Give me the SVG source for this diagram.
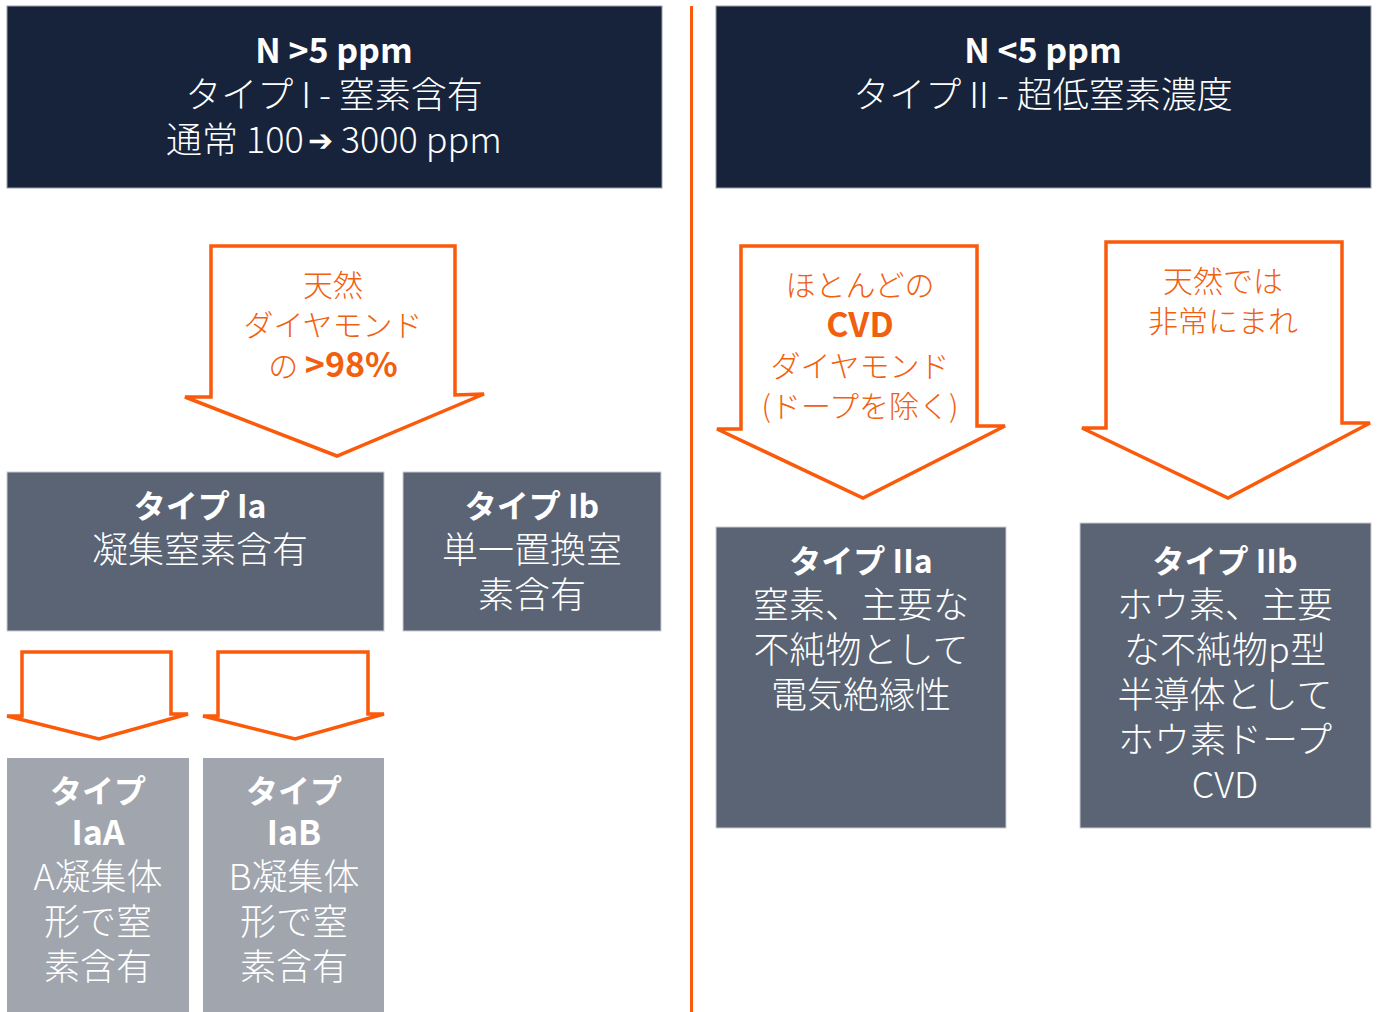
<svg xmlns="http://www.w3.org/2000/svg" width="1383" height="1012" viewBox="0 0 1383 1012">
<style>
.hdr{fill:#16233b;stroke:#9aa0aa;stroke-width:1}
.mid{fill:#5a6474;stroke:#c8ccd2;stroke-width:1}
.lt{fill:#a0a5ae}
.arr{fill:#fff;stroke:#fa5a0a;stroke-width:3.5;stroke-linejoin:miter}
text{font-family:"Noto Sans CJK JP","Noto Sans",sans-serif;text-anchor:middle}
.w{fill:#fff;font-weight:300}
.wb{fill:#fff;font-weight:700}
.o{fill:#f0600f;font-weight:300}
.ob{fill:#f0600f;font-weight:700}
.s36{font-size:36px}
.s34{font-size:34px}
.s32{font-size:32px}
.s30{font-size:30px}
.sym{font-family:"DejaVu Sans",sans-serif;font-size:30px}
</style>
<rect width="1383" height="1012" fill="#fff"/>
<g id="divider"><line x1="691.5" y1="6" x2="691.5" y2="1012" stroke="#fa5a0a" stroke-width="3"/></g>
<g id="typeI">
<rect class="hdr" x="7" y="6" width="655" height="182"/>
<text class="wb s34" x="334" y="63">N &gt;5 ppm</text>
<text class="w s36" x="334" y="108">タイプ I - 窒素含有</text>
<text class="w s36" x="334" y="153">通常 100<tspan class="sym" dx="4" dy="-2">➔</tspan><tspan dy="2"> 3000 ppm</tspan></text>
</g>
<g id="typeII">
<rect class="hdr" x="716" y="6" width="655" height="182"/>
<text class="wb s34" x="1043" y="63">N &lt;5 ppm</text>
<text class="w s36" x="1043" y="108">タイプ II - 超低窒素濃度</text>
</g>
<g id="connectors">
<polygon class="arr" points="211,246 455,246 455,395 484,394 337,456 185,397 211,397"/>
<polygon class="arr" points="741,246 977,246 977,426 1005,426 863,498 717,429 741,429"/>
<polygon class="arr" points="1106,242 1342,242 1342,423 1370,423 1228,498 1082,428 1106,428"/>
<polygon class="arr" points="22,652 171,652 171,714 188,714 99,739 7,716 22,716"/>
<polygon class="arr" points="218,652 368,652 368,714 384,714 295,739 203,716 218,716"/>
</g>
<g id="arrowlabel1">
<text class="o s30" x="333" y="296">天然</text>
<text class="o s30" x="333" y="336">ダイヤモンド</text>
<text class="o s30" x="333" y="377">の <tspan class="ob s34">&gt;98%</tspan></text>
</g>
<g id="arrowlabel2">
<text class="o s30" x="860" y="296">ほとんどの</text>
<text class="ob s34" x="860" y="337">CVD</text>
<text class="o s30" x="860" y="377">ダイヤモンド</text>
<text class="o s30" x="860" y="417">(ドープを除く)</text>
</g>
<g id="arrowlabel3">
<text class="o s30" x="1223" y="292">天然では</text>
<text class="o s30" x="1223" y="332">非常にまれ</text>
</g>
<g id="typeIa">
<rect class="mid" x="7" y="472" width="377" height="159"/>
<text class="wb s32" x="200" y="518">タイプ Ia</text>
<text class="w s36" x="200" y="563">凝集窒素含有</text>
</g>
<g id="typeIb">
<rect class="mid" x="403" y="472" width="258" height="159"/>
<text class="wb s32" x="532" y="518">タイプ Ib</text>
<text class="w s36" x="532" y="563">単一置換室</text>
<text class="w s36" x="532" y="608">素含有</text>
</g>
<g id="typeIaA">
<rect class="lt" x="7" y="758" width="182" height="254"/>
<text class="wb s32" x="98" y="803">タイプ</text>
<text class="wb s34" x="98" y="845">IaA</text>
<text class="w s36" x="98" y="890">A凝集体</text>
<text class="w s36" x="98" y="935">形で窒</text>
<text class="w s36" x="98" y="980">素含有</text>
</g>
<g id="typeIaB">
<rect class="lt" x="203" y="758" width="181" height="254"/>
<text class="wb s32" x="294" y="803">タイプ</text>
<text class="wb s34" x="294" y="845">IaB</text>
<text class="w s36" x="294" y="890">B凝集体</text>
<text class="w s36" x="294" y="935">形で窒</text>
<text class="w s36" x="294" y="980">素含有</text>
</g>
<g id="typeIIa">
<rect class="mid" x="716" y="527" width="290" height="301"/>
<text class="wb s32" x="861" y="573">タイプ IIa</text>
<text class="w s36" x="861" y="618">窒素、主要な</text>
<text class="w s36" x="861" y="663">不純物として</text>
<text class="w s36" x="861" y="708">電気絶縁性</text>
</g>
<g id="typeIIb">
<rect class="mid" x="1080" y="523" width="291" height="305"/>
<text class="wb s32" x="1225" y="573">タイプ IIb</text>
<text class="w s36" x="1225" y="618">ホウ素、主要</text>
<text class="w s36" x="1225" y="663">な不純物p型</text>
<text class="w s36" x="1225" y="708">半導体として</text>
<text class="w s36" x="1225" y="753">ホウ素ドープ</text>
<text class="w s36" x="1225" y="798">CVD</text>
</g>
</svg>
